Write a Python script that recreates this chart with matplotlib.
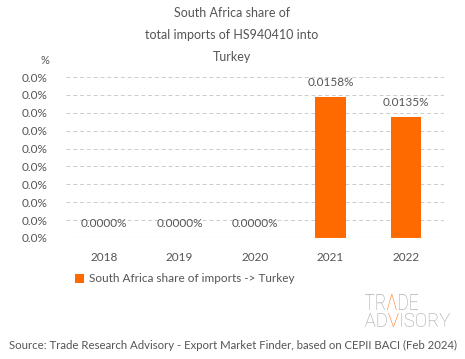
import matplotlib
matplotlib.use("Agg")
import matplotlib.pyplot as plt
import numpy as np
from matplotlib.textpath import TextPath, text_to_path
from matplotlib.font_manager import FontProperties
from matplotlib.patches import PathPatch
from matplotlib.transforms import Affine2D

years = ["2018", "2019", "2020", "2021", "2022"]
shares = [0.0, 0.0, 0.0, 0.0158, 0.0135]
value_labels = ["0.0000%", "0.0000%", "0.0000%", "0.0158%", "0.0135%"]
yticks = [0.0, 0.002, 0.004, 0.006, 0.008, 0.010, 0.012, 0.014, 0.016, 0.018]
ytick_labels = ["0.0%"] * 10
title_lines = ["South Africa share of", "total imports of HS940410 into", "Turkey"]
legend_label = "South Africa share of imports -> Turkey"
source = "Source: Trade Research Advisory - Export Market Finder, based on CEPII BACI (Feb 2024)"

plt.rcParams['font.family'] = ['Lato', 'DejaVu Sans']
gray = "#555555"
orange = "#FF6A00"

W, H = 465, 359
fig = plt.figure(figsize=(W/100, H/100), dpi=100)
ax = fig.add_axes([66/W, 1-238/H, (444-66)/W, (238-77)/H])

x = np.arange(len(years))
bars = ax.bar(x, shares, width=0.40, color=orange, label=legend_label, zorder=3)
ax.set_xlim(-0.5, len(years)-0.5)
ax.set_ylim(0, 0.018)
ax.set_yticks(yticks)
ax.set_yticklabels(ytick_labels)
ax.set_xticks(x)
ax.set_xticklabels(years)
ax.tick_params(axis='both', length=0, colors=gray, labelsize=8.5)
ax.tick_params(axis='y', pad=13)
ax.tick_params(axis='x', pad=10)
for s in ax.spines.values():
    s.set_visible(False)
ax.grid(axis='y', color='#cccccc', linestyle=(0, (4, 3)), linewidth=0.7, zorder=0)
ax.axhline(0, color='#cccccc', linewidth=0.8, zorder=4)

for xi, v, lab in zip(x, shares, value_labels):
    ax.annotate(lab, (xi, v), xytext=(0, 10.5), textcoords='offset points',
                ha='center', va='center', fontsize=8.5, color=gray)

for i, line in enumerate(title_lines):
    fig.text(232/W, 1-(13+22*i)/H, line, ha='center', va='center', fontsize=9, color=gray)
fig.text(45/W, 1-60/H, "%", ha='center', va='center', fontsize=8, color=gray)

fig.legend(handles=[bars], labels=[legend_label], loc='center left',
           bbox_to_anchor=(75/W, 1-279/H), frameon=False, fontsize=8.5,
           labelcolor=gray, handlelength=0.75, handleheight=0.75, handletextpad=0.45,
           borderpad=0, borderaxespad=0)

# logo drawn as condensed text paths
logo_gray = '#a0a0a0'
lprop = FontProperties(family='Roboto', weight='light')


def draw_word(segments, x0, y_top, y_bot, width):
    full = "".join(s for s, _ in segments)
    ext = TextPath((0, 0), full, size=100, prop=lprop).get_extents()
    sx = width / ext.width
    sy = (y_bot - y_top) / ext.height
    tr = (Affine2D().translate(-ext.x0, -ext.y0).scale(sx, sy)
          .translate(x0, H - y_bot).scale(1 / W, 1 / H)) + fig.transFigure
    prefix = ""
    for seg, col in segments:
        off = 0.0
        if prefix:
            off = text_to_path.get_text_width_height_descent(prefix, lprop, ismath=False)[0] * 100 / lprop.get_size_in_points()
        p = TextPath((off, 0), seg, size=100, prop=lprop)
        fig.add_artist(PathPatch(p, transform=tr, facecolor=col, edgecolor='none'))
        prefix += seg


draw_word([("TR", logo_gray), ("\u039b", orange), ("DE", logo_gray)], 365, 294, 310, 53)
draw_word([("AD", logo_gray), ("V", orange), ("ISORY", logo_gray)], 365, 313, 327, 85)

fig.text(233/W, 1-345/H, source, ha='center', va='center', fontsize=8.2, color=gray)

fig.savefig("out.png", dpi=100, facecolor='white')
